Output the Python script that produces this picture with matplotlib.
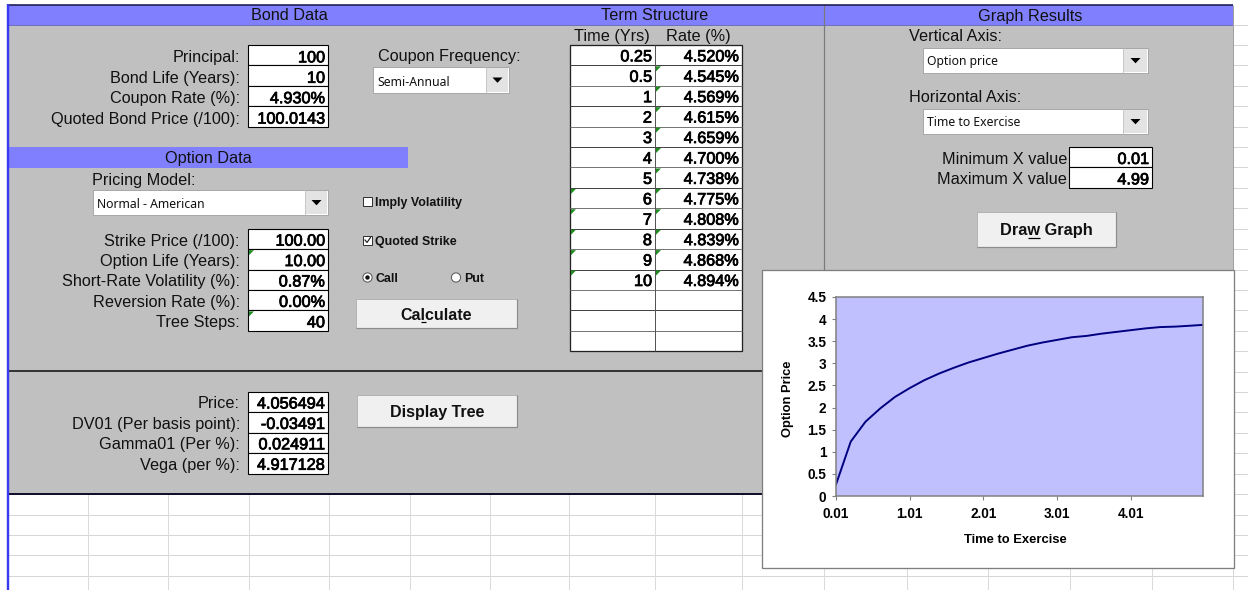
import matplotlib
matplotlib.use("Agg")
import matplotlib.pyplot as plt
import matplotlib.patheffects as pe
from matplotlib.patches import Rectangle, Polygon, Circle
from matplotlib.font_manager import FontProperties

# ---------------- worksheet contents ----------------
section_titles = ["Bond Data", "Term Structure", "Graph Results"]

bond_labels = ["Principal:", "Bond Life (Years):", "Coupon Rate (%):", "Quoted Bond Price (/100):"]
bond_values = ["100", "10", "4.930%", "100.0143"]

coupon_frequency = "Semi-Annual"
pricing_model = "Normal - American"

option_labels = ["Strike Price (/100):", "Option Life (Years):", "Short-Rate Volatility (%):",
                 "Reversion Rate (%):", "Tree Steps:"]
option_values = ["100.00", "10.00", "0.87%", "0.00%", "40"]

result_labels = ["Price:", "DV01 (Per basis point):", "Gamma01 (Per %):", "Vega (per %):"]
result_values = ["4.056494", "-0.03491", "0.024911", "4.917128"]

term_times = ["0.25", "0.5", "1", "2", "3", "4", "5", "6", "7", "8", "9", "10"]
term_rates = ["4.520%", "4.545%", "4.569%", "4.615%", "4.659%", "4.700%",
              "4.738%", "4.775%", "4.808%", "4.839%", "4.868%", "4.894%"]

vertical_axis_choice = "Option price"
horizontal_axis_choice = "Time to Exercise"
x_range_labels = ["Minimum X value", "Maximum X value"]
x_range_values = ["0.01", "4.99"]

# option price against time to exercise
exercise_times = [0.01, 0.21, 0.41, 0.61, 0.81, 1.01, 1.21, 1.41, 1.61, 1.81, 2.01, 2.21, 2.41,
                  2.61, 2.81, 3.01, 3.21, 3.41, 3.61, 3.81, 4.01, 4.21, 4.41, 4.61, 4.81, 4.99]
option_prices = [0.26, 1.23, 1.68, 1.98, 2.24, 2.44, 2.62, 2.77, 2.90, 3.02, 3.12, 3.22, 3.31,
                 3.40, 3.47, 3.53, 3.59, 3.62, 3.67, 3.71, 3.75, 3.79, 3.82, 3.83, 3.85, 3.87]
x_tick_values = [0.01, 1.01, 2.01, 3.01, 4.01]
y_tick_values = [0, 0.5, 1, 1.5, 2, 2.5, 3, 3.5, 4, 4.5]

# ---------------- canvas ----------------
W, H = 1248, 590
PX = 0.72  # points per pixel at 100 dpi
fig = plt.figure(figsize=(W / 100, H / 100), dpi=100, facecolor="white")
ax = fig.add_axes([0, 0, 1, 1])
ax.set_xlim(0, W)
ax.set_ylim(H, 0)
ax.axis("off")

SANS = "Liberation Sans"
UI = "Noto Sans"
GREY = "#C0C0C0"
HEAD = "#8080FF"
FS = 11.7          # sheet text size
INK = "#111111"
HEAVY = [pe.withStroke(linewidth=0.55, foreground="black")]  # slightly heavier cell values


def rect(x0, y0, x1, y1, fc, ec="none", lw=1.0, z=1):
    ax.add_patch(Rectangle((x0, y0), x1 - x0, y1 - y0, facecolor=fc, edgecolor=ec,
                           linewidth=lw * PX, zorder=z))


def hline(y, x0, x1, color, lw=1.0, z=2):
    ax.plot([x0, x1], [y, y], color=color, lw=lw * PX, zorder=z, solid_capstyle="butt")


def vline(x, y0, y1, color, lw=1.0, z=2):
    ax.plot([x, x], [y0, y1], color=color, lw=lw * PX, zorder=z, solid_capstyle="butt")


def text(x, y, s, size=FS, ha="left", weight="normal", family=SANS, color=INK,
         z=6, va="baseline", rotation=0):
    return ax.text(x, y, s, fontsize=size, ha=ha, va=va, fontweight=weight, family=family,
                   color=color, zorder=z, rotation=rotation)


def value(x, y, s):
    t = text(x, y, s, ha="right", color="black")
    t.set_path_effects(HEAVY)
    return t


def flag(x0, y0, z=7):
    ax.add_patch(Polygon([(x0 + 1, y0 + 1), (x0 + 6, y0 + 1), (x0 + 1, y0 + 6)],
                         closed=True, facecolor="#1E8C1E", edgecolor="none", zorder=z))


def dropdown(x0, y0, x1, y1, ax_x, label):
    rect(x0, y0, x1, y1, "white", "#A8A8A8", 1, z=3)
    rect(ax_x, y0 + 1, x1 - 1, y1 - 1, "#E3E3E3", "none", z=3)
    vline(ax_x, y0, y1, "#C8C8C8", 1, z=4)
    cx, cy = (ax_x + x1) / 2, (y0 + y1) / 2
    ax.add_patch(Polygon([(cx - 5, cy - 2.5), (cx + 5, cy - 2.5), (cx, cy + 2.8)], closed=True,
                         facecolor="black", edgecolor="none", zorder=5))
    text(x0 + 4, y1 - 7.5, label, size=8.8, family=UI)


renderer = fig.canvas.get_renderer()


def text_width(s, size, weight):
    prop = FontProperties(family=SANS, size=size, weight=weight)
    w, _, _ = renderer.get_text_width_height_descent(s, prop, ismath=False)
    return w


def button(x0, y0, x1, y1, label, ul=None, size=11.5):
    rect(x0, y0, x1, y1, "#F0F0F0", "#B4B4B4", 1, z=3)
    hline(y1 - 0.5, x0, x1, "#8C8C8C", 1.2, z=4)
    vline(x1 - 0.5, y0, y1, "#8C8C8C", 1.2, z=4)
    cx = (x0 + x1) / 2
    base = (y0 + y1) / 2 + 6
    text(cx, base, label, size=size, ha="center", weight="bold")
    if ul is not None:
        full = text_width(label, size, "bold")
        left = cx - full / 2
        a = left + text_width(label[:ul], size, "bold")
        b = left + text_width(label[:ul + 1], size, "bold")
        hline(base + 2, a, b, "black", 1.2, z=7)


def checkbox(x0, yc, checked, label):
    rect(x0, yc - 4.5, x0 + 9, yc + 4.5, "white", "#333333", 1, z=4)
    if checked:
        ax.plot([x0 + 2, x0 + 4, x0 + 7.5], [yc, yc + 2.5, yc - 2.5], color="#222222",
                lw=1.2 * PX, zorder=5)
    text(x0 + 12, yc + 4.5, label, size=8.9, weight="bold")


def radio(cx, cy, selected, label):
    ax.add_patch(Circle((cx, cy), 4.6, facecolor="white", edgecolor="#555555",
                        linewidth=1 * PX, zorder=4))
    if selected:
        ax.add_patch(Circle((cx, cy), 2.2, facecolor="#111111", edgecolor="none", zorder=5))
    text(cx + 8, cy + 4.5, label, size=8.9, weight="bold")


# ---------------- worksheet grid ----------------
col_edges = [8, 88, 168, 249, 329, 410, 490, 569, 655, 742, 824, 907, 988, 1070, 1152, 1233]
row_edges = [24.5 + 20.42 * k for k in range(29)]
for y in row_edges:
    hline(y, 8, W, "#D6D6D6", 1.0, z=0.5)
for x in col_edges:
    vline(x, 493, H, "#DADADA", 1.0, z=0.5)

# grey form area and section headers
rect(8, 5, 1233, 493.5, GREY, z=1)
rect(8, 5, 1233, 24.5, HEAD, z=1.5)
hline(24.5, 8, 1233, "#7070C0", 1, z=2)
hline(5, 8, 1233, "#1A1A50", 1.6, z=3)
vline(8, 4, H, "#3A3AF0", 2.4, z=3)
vline(824, 5, 272, "#7A7A7A", 1.2, z=2)
vline(1233, 5, 272, "#A0A0A0", 1.0, z=2)
hline(371, 8, 762, "#262626", 1.8, z=2)
hline(493.5, 8, 762, "#10102A", 2.0, z=2)

text(289, 20.5, section_titles[0], ha="center")
text(655, 20.5, section_titles[1], ha="center")
text(1030, 20.5, section_titles[2], ha="center")

# option data bar
rect(8, 147, 408, 167.5, HEAD, z=1.5)
text(208, 163.5, "Option Data", ha="center")

# ---------------- bond data ----------------
LBL_X, BOX_X0, BOX_X1 = 240, 248, 328
for i, (lab, val) in enumerate(zip(bond_labels, bond_values)):
    y0, y1 = row_edges[1 + i], row_edges[2 + i]
    rect(BOX_X0, y0, BOX_X1, y1, "white", "black", 1.1, z=3)
    text(LBL_X, y1 - 3, lab, ha="right")
    value(BOX_X1 - 3, y1 - 3, val)

text(378, 61, "Coupon Frequency:")
dropdown(373, 67, 509, 93, 486, coupon_frequency)

# ---------------- option data ----------------
text(92, 185, "Pricing Model:")
dropdown(93, 190, 328, 215, 305, pricing_model)
checkbox(363, 201.5, False, "Imply Volatility")
checkbox(363, 240, True, "Quoted Strike")
radio(367.5, 277.5, True, "Call")
radio(456, 277.5, False, "Put")

for i, (lab, val) in enumerate(zip(option_labels, option_values)):
    y0, y1 = row_edges[10 + i], row_edges[11 + i]
    rect(BOX_X0, y0, BOX_X1, y1, "white", "black", 1.1, z=3)
    text(LBL_X, y1 - 3.5, lab, ha="right")
    value(BOX_X1 - 3, y1 - 3.5, val)
    if i in (1, 4):
        flag(BOX_X0, y0)

button(356, 299, 517, 328, "Calculate", ul=2)

# ---------------- results ----------------
for i, (lab, val) in enumerate(zip(result_labels, result_values)):
    y0, y1 = row_edges[18 + i], row_edges[19 + i]
    rect(BOX_X0, y0, BOX_X1, y1, "white", "black", 1.1, z=3)
    text(LBL_X, y1 - 4, lab, ha="right")
    value(BOX_X1 - 3, y1 - 4, val)

button(357, 395, 517, 427, "Display Tree")

# ---------------- term structure ----------------
T_X0, T_XM, T_X1 = 570, 655, 742
text(612, 41, "Time (Yrs)", ha="center")
text(698, 41, "Rate (%)", ha="center")
n_rows = 15
rect(T_X0, row_edges[1], T_X1, row_edges[1 + n_rows], "white", "#222222", 1.3, z=3)
for k in range(1, n_rows):
    hline(row_edges[1 + k], T_X0, T_X1, "#444444" if k % 2 else "#777777", 1.0, z=4)
vline(T_XM, row_edges[1], row_edges[1 + n_rows], "#555555", 1.0, z=4)
for i, (tt, rr) in enumerate(zip(term_times, term_rates)):
    y0, y1 = row_edges[1 + i], row_edges[2 + i]
    value(T_XM - 3, y1 - 4, tt)
    value(T_X1 - 3, y1 - 4, rr)
    if i >= 1:
        flag(T_XM, y0)
    if i >= 7:
        flag(T_X0, y0)

# ---------------- graph results controls ----------------
text(909, 41, "Vertical Axis:")
dropdown(923, 48, 1148, 73, 1123, vertical_axis_choice)
text(909, 102.5, "Horizontal Axis:")
dropdown(923, 109, 1148, 134, 1123, horizontal_axis_choice)
for i, (lab, val) in enumerate(zip(x_range_labels, x_range_values)):
    y0, y1 = row_edges[6 + i], row_edges[7 + i]
    rect(1069, y0, 1152, y1, "white", "black", 1.1, z=3)
    text(1067, y1 - 3.5, lab, ha="right")
    value(1149, y1 - 3.5, val)
button(977, 212, 1116, 247, "Draw Graph", ul=3, size=11.8)

# ---------------- embedded chart ----------------
rect(762, 270, 1234, 568, "white", "#7F7F7F", 1.3, z=10)
text(1015, 540, "Time to Exercise", size=9.4, ha="center", weight="bold", va="center", z=11,
     color="black")
text(788, 399, "Option Price", size=9.3, ha="center", weight="bold", va="center",
     rotation=90, z=11, color="black")

cax = fig.add_axes([836 / W, 1 - 496 / H, (1203 - 836) / W, (496 - 297) / H])
cax.set_facecolor("#C0C0FF")
cax.plot(exercise_times, option_prices, color="#000080", lw=1.4, solid_joinstyle="round")
cax.set_xlim(0.01, 4.99)
cax.set_ylim(0, 4.5)
cax.set_xticks(x_tick_values)
cax.set_xticklabels([f"{v:.2f}" for v in x_tick_values])
cax.set_yticks(y_tick_values)
cax.set_yticklabels([f"{v:g}" for v in y_tick_values])
for s in cax.spines.values():
    s.set_color("#808080")
    s.set_linewidth(1.1)
cax.tick_params(axis="both", direction="out", length=3, width=0.8, color="#808080",
                labelsize=9.8, labelcolor="black")
cax.tick_params(axis="y", pad=4)
cax.tick_params(axis="x", pad=5)
for lab in cax.get_xticklabels() + cax.get_yticklabels():
    lab.set_fontweight("bold")
    lab.set_family(SANS)

fig.savefig("out.png", dpi=100, facecolor="white")
